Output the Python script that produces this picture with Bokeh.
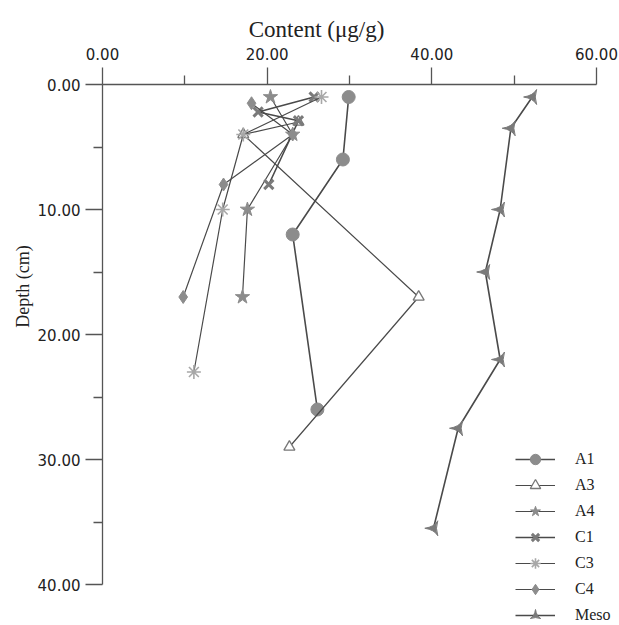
import math
from bokeh.plotting import figure
from bokeh.models import (Range1d, FixedTicker, PrintfTickFormatter, Legend, LegendItem, Label, LinearAxis)
from bokeh.embed import file_html
from bokeh.resources import INLINE

# ---- data: depth (cm) and content (ug/g) ----
a1_depth = [1, 6, 12, 26]
a1_content = [29.9, 29.2, 23.1, 26.1]

a3_depth = [3, 4, 17, 29]
a3_content = [23.8, 17.1, 38.4, 22.7]

a4_depth = [1, 4, 10, 17]
a4_content = [20.4, 23.1, 17.6, 17.0]

c1_depth = [1, 2.2, 2.9, 8]
c1_content = [25.7, 18.9, 23.8, 20.2]

c3_depth = [1, 4, 10, 23]
c3_content = [26.6, 17.1, 14.6, 11.1]

c4_depth = [1.5, 4, 8, 17]
c4_content = [18.1, 23.1, 14.7, 9.8]

meso_depth = [1, 3.5, 10, 15, 22, 27.5, 35.5]
meso_content = [52.2, 49.6, 48.3, 46.5, 48.3, 43.2, 40.2]

x_ticks = [0, 20, 40, 60]
x_minor = [10, 30, 50]
y_ticks = [0, 10, 20, 30, 40]
y_minor = [5, 15, 25, 35]

W, H = 619, 625
# frame covers the whole canvas; axes are pinned at content=0 / depth=0
px_per_x = 494 / 60.0
px_per_y = 500 / 40.0
x0_px, y0_px = 102, 84
x_lo = -x0_px / px_per_x
x_hi = (W - x0_px) / px_per_x
y_top = -y0_px / px_per_y
y_bot = (H - y0_px) / px_per_y

p = figure(width=W, height=H, output_backend="svg", toolbar_location=None,
           x_range=Range1d(x_lo, x_hi), y_range=Range1d(y_bot, y_top),
           x_axis_type=None, y_axis_type=None,
           min_border_left=0, min_border_right=0, min_border_top=0, min_border_bottom=0)
p.outline_line_color = None
p.grid.visible = False
p.background_fill_color = "white"
p.border_fill_color = "white"

axis_col = "#555555"
xax = LinearAxis(fixed_location=0, bounds=(0, 60))
yax = LinearAxis(fixed_location=0, bounds=(0, 40))
for ax, ticks, minor in ((xax, x_ticks, x_minor), (yax, y_ticks, y_minor)):
    ax.ticker = FixedTicker(ticks=ticks, minor_ticks=minor)
    ax.formatter = PrintfTickFormatter(format="%.2f")
    ax.axis_line_color = axis_col
    ax.axis_line_width = 1.3
    ax.major_tick_line_color = axis_col
    ax.minor_tick_line_color = axis_col
    ax.major_tick_line_width = 1.3
    ax.minor_tick_line_width = 1.3
    ax.major_tick_in = 0
    ax.major_tick_out = 17
    ax.minor_tick_in = 0
    ax.minor_tick_out = 9
    ax.major_label_text_font = "DejaVu Sans"
    ax.major_label_text_font_size = "15px"
    ax.major_label_text_color = "#222222"
xax.major_label_standoff = 8
yax.major_label_standoff = 5
p.add_layout(xax, "above")
p.add_layout(yax, "left")

line_col = "#4a4a4a"
series = [
    ("A1", a1_content, a1_depth, dict(marker="circle", size=13, fill_color="#8c8c8c", line_color="#8c8c8c"), 1.6),
    ("A3", a3_content, a3_depth, dict(marker="triangle", size=11, fill_color="white", line_color="#777777", line_width=1.3), 1.2),
    ("A4", a4_content, a4_depth, dict(marker="star", size=15, fill_color="#8c8c8c", line_color="#8c8c8c"), 1.2),
    ("C1", c1_content, c1_depth, dict(marker="x", size=13, line_color="#7a7a7a", line_width=3), 1.6),
    ("C3", c3_content, c3_depth, dict(marker="asterisk", size=14, line_color="#a8a8a8", line_width=1.6), 1.2),
    ("C4", c4_content, c4_depth, dict(marker="diamond", size=13, fill_color="#8c8c8c", line_color="#8c8c8c"), 1.2),
    ("Meso", meso_content, meso_depth, dict(marker="triangle_pin", size=15, angle=math.pi / 2, fill_color="#7a7a7a", line_color="#7a7a7a"), 1.6),
]

items = []
for name, xs, ys, mk, lw in series:
    rl = p.line(xs, ys, line_color=line_col, line_width=lw)
    rs = p.scatter(xs, ys, **mk)
    items.append(LegendItem(label=name, renderers=[rl, rs]))

# legend rows 26 px apart, first row centred at ~459 px
gh, sp = 26, 0
n = len(items)
leg_h = n * gh + (n - 1) * sp
leg_top = 459 - gh / 2
legend = Legend(items=items, location=(515, H - leg_top - leg_h), orientation="vertical",
                glyph_width=40, glyph_height=gh, label_height=gh, spacing=sp,
                label_standoff=20, padding=0, margin=0,
                border_line_color=None, background_fill_alpha=0,
                label_text_font="Liberation Serif", label_text_font_size="16px",
                label_text_color="#222222")
p.add_layout(legend, "center")

p.add_layout(Label(x=316, y=H - 29, x_units="screen", y_units="screen", text="Content (\u03bcg/g)",
                   text_font="Liberation Serif", text_font_size="23px", text_color="#222222",
                   text_align="center", text_baseline="middle"))
p.add_layout(Label(x=22, y=H - 286, x_units="screen", y_units="screen", text="Depth (cm)",
                   angle=math.pi / 2,
                   text_font="Liberation Serif", text_font_size="18px", text_color="#222222",
                   text_align="center", text_baseline="middle"))

open("out.html", "w").write(file_html(p, INLINE))
